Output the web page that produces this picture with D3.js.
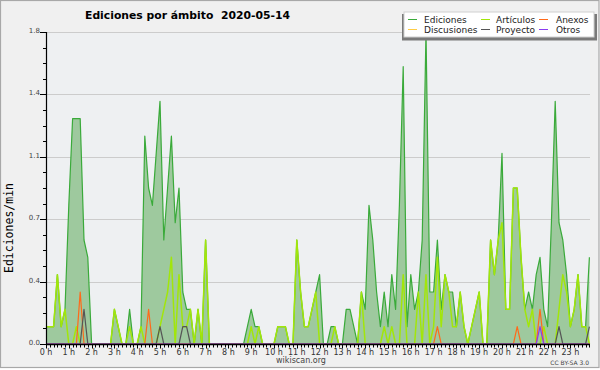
<!DOCTYPE html>
<html><head><meta charset="utf-8">
<script src="https://cdn.jsdelivr.net/npm/d3@7"></script>
<style>
html,body{margin:0;padding:0;background:#fff;}
svg{display:block;}
text{font-family:"DejaVu Sans",sans-serif;}
</style></head><body>
<svg id="c" width="600" height="370"></svg>
<script>
const title = "Ediciones por ámbito  2020-05-14";
const yTitle = "Ediciones/min";
const siteLabel = "wikiscan.org";
const licenseLabel = "CC BY-SA 3.0";
const hourLabels = ["0 h","1 h","2 h","3 h","4 h","5 h","6 h","7 h","8 h","9 h","10 h","11 h",
  "12 h","13 h","14 h","15 h","16 h","17 h","18 h","19 h","20 h","21 h","22 h","23 h"];
const yTicks = [0, 0.36, 0.72, 1.08, 1.44, 1.8];
const seriesNames = ["Ediciones","Artículos","Anexos","Discusiones","Proyecto","Otros"];
const seriesColors = ["#3aaa3a","#a2e60a","#ff6a1a","#ffcc44","#555555","#8a3cf0"];
// 10-minute slots, edits per minute
const ediciones = [
  0.1,0.1,0.1,0.4,0.1,0.2,0.8,1.3,1.3,1.3,0.6,0.5,
  0,0,0,0,0,0,0.2,0.1,0,0,0.2,0,
  0,0.1,1.2,0.9,0.8,1.1,1.4,0.6,0.9,1.2,0.7,0.9,
  0.3,0.2,0.2,0,0.2,0,0.6,0,0,0,0,0,
  0,0,0,0,0,0.1,0.2,0.1,0.1,0,0,0,
  0,0.1,0.1,0.1,0,0,0.6,0.3,0.1,0.1,0.2,0.3,
  0.4,0,0,0.1,0.1,0,0,0.2,0.2,0.1,0,0.3,
  0.2,0.8,0.6,0.3,0.1,0.3,0.1,0.4,0.2,0.8,1.6,0.1,
  0.4,0.2,0.3,0.6,1.8,0.3,0.3,0.6,0.2,0.4,0.3,0.3,
  0.1,0.3,0.1,0,0.1,0.2,0.3,0,0,0.6,0.4,0.6,
  1.1,0.2,0.2,0.9,0.9,0.5,0.2,0.3,0.2,0.4,0.5,0.2,
  0.1,0.7,1.4,0.7,0.6,0.4,0.1,0.2,0.4,0.1,0.1,0.5];
const articulos = [
  0.1,0.1,0.1,0.4,0.1,0.2,0,0,0.1,0,0,0,
  0,0,0,0,0,0,0.2,0.1,0,0,0.1,0,
  0,0.1,0,0,0,0,0.1,0.2,0.3,0.5,0,0.4,
  0.1,0.1,0.2,0,0.2,0,0.6,0,0,0,0,0,
  0,0,0,0,0,0,0.1,0,0.1,0,0,0,
  0,0.1,0.1,0.1,0,0,0.6,0.3,0.1,0.1,0.2,0.3,
  0,0,0,0,0.1,0,0,0,0,0,0,0.3,
  0,0,0,0,0,0.1,0,0.1,0,0,0.4,0,
  0,0,0.3,0,0.4,0,0.1,0.5,0.1,0.4,0.3,0.1,
  0.1,0.3,0.1,0,0.1,0.2,0.3,0,0,0.6,0.4,0.6,
  0.7,0.2,0.2,0.9,0.9,0.5,0.2,0.1,0.2,0,0,0.1,
  0,0,0,0.2,0.4,0.3,0.1,0.2,0.4,0.1,0.1,0];
const anexos = [
  0,0,0,0,0,0,0,0,0,0.3,0,0,
  0,0,0,0,0,0,0,0,0,0,0,0,
  0,0,0,0.2,0,0,0,0,0,0,0,0,
  0,0,0,0,0,0,0,0,0,0,0,0,
  0,0,0,0,0,0,0,0,0,0,0,0,
  0,0,0,0,0,0,0,0,0,0,0,0,
  0,0,0,0,0,0,0,0,0,0,0,0,
  0,0,0,0,0,0,0,0,0,0,0,0,
  0,0,0,0,0,0,0,0.1,0,0,0,0,
  0,0,0,0,0,0,0,0,0,0,0,0,
  0,0,0,0,0.1,0,0,0,0,0,0.2,0,
  0,0,0,0,0,0,0,0,0,0,0,0];
const discusiones = [
  0,0,0,0,0,0,0,0,0,0,0,0,
  0,0,0,0,0,0,0,0,0,0,0,0,
  0,0,0,0,0,0,0,0,0,0,0,0,
  0,0,0,0,0,0,0,0,0,0,0,0,
  0,0,0,0,0,0,0,0,0,0,0,0,
  0,0,0,0,0,0,0,0,0,0,0,0,
  0,0,0,0,0,0,0,0,0,0,0,0,
  0,0,0,0,0,0,0,0,0,0,0,0,
  0,0,0,0,0,0,0,0,0,0,0,0,
  0,0,0,0,0,0,0,0,0,0,0,0,
  0,0,0,0,0,0,0,0,0,0,0,0,
  0,0,0,0,0,0,0,0,0,0,0,0];
const proyecto = [
  0,0,0,0,0,0,0,0,0,0,0.2,0,
  0,0,0,0,0,0,0,0,0,0,0,0,
  0,0,0,0,0,0,0.1,0,0,0,0,0,
  0.1,0.1,0,0,0,0,0,0,0,0,0,0,
  0,0,0,0,0,0,0,0,0,0,0,0,
  0,0,0,0,0,0,0,0,0,0,0,0,
  0,0,0,0,0,0,0,0,0,0,0,0,
  0,0,0,0,0,0,0,0,0,0,0,0,
  0,0,0,0,0,0,0,0,0,0,0,0,
  0,0,0,0,0,0,0,0,0,0,0,0,
  0,0,0,0,0,0,0,0,0,0,0,0,
  0,0,0,0.1,0,0,0,0,0,0,0,0.1];
const otros = [
  0,0,0,0,0,0,0,0,0,0,0,0,
  0,0,0,0,0,0,0,0,0,0,0,0,
  0,0,0,0,0,0,0,0,0,0,0,0,
  0,0,0,0,0,0,0,0,0,0,0,0,
  0,0,0,0,0,0,0,0,0,0,0,0,
  0,0,0,0,0,0,0,0,0,0,0,0,
  0,0,0,0,0,0,0,0,0,0,0,0,
  0,0,0,0,0,0,0,0,0,0,0,0,
  0,0,0,0,0,0,0,0,0,0,0,0,
  0,0,0,0,0,0,0,0,0,0,0,0,
  0,0,0,0,0,0,0,0,0,0,0.1,0,
  0,0,0,0,0,0,0,0,0,0,0,0];

const seriesData = [ediciones, articulos, anexos, discusiones, proyecto, otros];
const slotMinutes = ediciones.map((_, i) => i * 10);

const svg = d3.select("#c");
const W = 600, H = 370;
const pLeft = 46, pRight = 590, pTop = 32, pBottom = 344;

// backgrounds
svg.append("rect").attr("x",0).attr("y",0).attr("width",W).attr("height",H).attr("fill","#ffffff");
svg.append("rect").attr("x",0.5).attr("y",0.5).attr("width",598.5).attr("height",367)
  .attr("fill","#f0f0f0").attr("stroke","#a8a8a8").attr("stroke-width",1.2);
svg.append("rect").attr("x",pLeft).attr("y",pTop).attr("width",pRight-pLeft).attr("height",pBottom-pTop)
  .attr("fill","#eef0f2");

const x = d3.scaleLinear().domain([0, 1440]).range([pLeft, pLeft + 144*3.8]);
const y = d3.scaleLinear().domain([0, 1.8]).range([pBottom, pTop]);

// gridlines
svg.append("g").selectAll("line").data(yTicks.filter(d => d > 0)).join("line")
  .attr("x1", pLeft).attr("x2", pRight)
  .attr("y1", d => Math.round(y(d)) + 0.5).attr("y2", d => Math.round(y(d)) + 0.5)
  .attr("stroke","#cccccc").attr("stroke-width",1);

// area for Ediciones
const area = d3.area().x((d,i) => x(slotMinutes[i])).y0(y(0)).y1(d => y(d)).curve(d3.curveLinear);
svg.append("path").datum(ediciones).attr("d", area).attr("fill","#9ec99e");

const line = d3.line().x((d,i) => x(slotMinutes[i])).y(d => y(d)).curve(d3.curveLinear);
const drawOrder = [0, 1, 3, 2, 4, 5];
drawOrder.forEach(k => {
  svg.append("path").datum(seriesData[k]).attr("d", line)
    .attr("fill","none").attr("stroke", seriesColors[k])
    .attr("stroke-width", k === 1 ? 1.5 : 1.2).attr("stroke-linejoin","round");
});

// Y axis
const yAxis = svg.append("g");
yAxis.append("line").attr("x1",pLeft+0.5).attr("x2",pLeft+0.5).attr("y1",pTop).attr("y2",pBottom)
  .attr("stroke","#000").attr("stroke-width",1.2);
const minorY = d3.range(0, 21).map(k => k * 0.09);
yAxis.selectAll("line.mn").data(minorY).join("line").attr("class","mn")
  .attr("x1", pLeft - 3).attr("x2", pLeft)
  .attr("y1", d => Math.round(y(d)) + 0.5).attr("y2", d => Math.round(y(d)) + 0.5)
  .attr("stroke","#000").attr("stroke-width",1);
yAxis.selectAll("line.mj").data(yTicks).join("line").attr("class","mj")
  .attr("x1", pLeft - 6).attr("x2", pLeft)
  .attr("y1", d => Math.round(y(d)) + 0.5).attr("y2", d => Math.round(y(d)) + 0.5)
  .attr("stroke","#000").attr("stroke-width",1);
yAxis.selectAll("text").data(yTicks).join("text")
  .attr("x", pLeft - 6).attr("y", d => y(d) + 1)
  .attr("text-anchor","end").attr("font-size","7px").attr("fill","#444")
  .text(d => d3.format(".1f")(d));

// X axis
const xAxis = svg.append("g");
xAxis.append("line").attr("x1",pLeft).attr("x2",pRight).attr("y1",pBottom+0.5).attr("y2",pBottom+0.5)
  .attr("stroke","#000").attr("stroke-width",1.5);
xAxis.selectAll("line.t").data(slotMinutes).join("line").attr("class","t")
  .attr("x1", d => Math.round(x(d)) + 0.5).attr("x2", d => Math.round(x(d)) + 0.5)
  .attr("y1", pBottom).attr("y2", d => d % 60 === 0 ? pBottom + 4.5 : pBottom + 3.5)
  .attr("stroke","#000").attr("stroke-width",1);
xAxis.selectAll("text").data(hourLabels).join("text")
  .attr("x", (d,i) => x(i*60)).attr("y", pBottom + 10.5)
  .attr("text-anchor","middle").attr("font-size","8px").attr("fill","#333")
  .style("white-space","pre").text(d => d);

// axis title
svg.append("text").attr("transform","translate(13,228) rotate(-90)")
  .attr("text-anchor","middle")
  .style("font-family","'DejaVu Sans Mono', monospace")
  .attr("font-size","11.5px").attr("fill","#000").text(yTitle);

// title
svg.append("text").attr("x",85).attr("y",18.5)
  .attr("font-size","11px").attr("font-weight","bold").attr("fill","#000")
  .attr("textLength",205).attr("lengthAdjust","spacingAndGlyphs")
  .style("white-space","pre").text(title);

// footer
svg.append("text").attr("x",301).attr("y",363).attr("text-anchor","middle")
  .attr("font-size","8px").attr("fill","#444").text(siteLabel);
svg.append("text").attr("x",589).attr("y",365).attr("text-anchor","end")
  .attr("font-size","6px").attr("fill","#444").text(licenseLabel);

// legend
const lg = svg.append("g");
lg.append("rect").attr("x",402).attr("y",14).attr("width",195).attr("height",26.5).attr("fill","#7a7a7a");
lg.append("rect").attr("x",404).attr("y",12).attr("width",190).attr("height",25)
  .attr("fill","#ffffff").attr("stroke","#cfcfcf").attr("stroke-width",1);
const colX = [408, 481, 539];
const textX = [424, 496, 556];
const rowY = [19.5, 29.5];
seriesNames.forEach((name, k) => {
  const c = k % 3, r = Math.floor(k / 3);
  lg.append("line").attr("x1", colX[c]).attr("x2", colX[c] + 9)
    .attr("y1", rowY[r]).attr("y2", rowY[r])
    .attr("stroke", seriesColors[k]).attr("stroke-width", 1);
  lg.append("text").attr("x", textX[c]).attr("y", rowY[r] + 3.3)
    .attr("font-size","9px").attr("fill","#222").text(name);
});
</script>
</body></html>
